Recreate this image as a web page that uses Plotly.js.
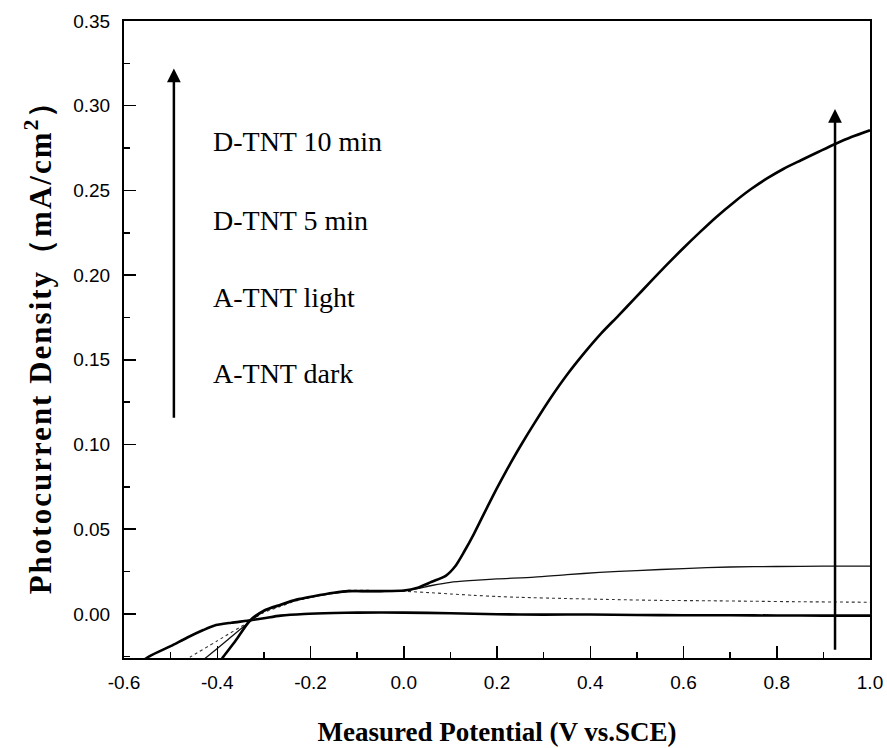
<!DOCTYPE html>
<html>
<head>
<meta charset="utf-8">
<script src="https://cdn.plot.ly/plotly-3.0.1.min.js"></script>
<style>html,body{margin:0;padding:0;background:#fff;}#chart{width:887px;height:748px;} .ytitle{letter-spacing:2px;}</style>
</head>
<body>
<div id="chart"></div>
<script>
// ---- Data ----
const xDark = [-0.57,-0.55,-0.50,-0.464,-0.43,-0.407,-0.37,-0.336,-0.30,-0.264,-0.214,-0.15,-0.10,0.0,0.10,0.20,0.30,0.40,0.50,0.60,0.70,0.80,0.90,1.0];
const yDark = [-0.030,-0.0257,-0.019,-0.0139,-0.0095,-0.0069,-0.0052,-0.004,-0.0025,-0.001,0.0,0.0006,0.0008,0.0008,0.0004,-0.0002,-0.0004,-0.0003,-0.0006,-0.0008,-0.0008,-0.0009,-0.001,-0.001];

const xLight = [-0.47,-0.457,-0.40,-0.33,-0.30,-0.264,-0.23,-0.193,-0.15,-0.12,-0.09,-0.05,0.0,0.06,0.10,0.15,0.20,0.25,0.35,0.45,0.55,0.65,0.75,0.85,0.95,1.0];
const yLight = [-0.0275,-0.0253,-0.0159,-0.0043,0.0008,0.0045,0.0078,0.0102,0.0126,0.0139,0.0140,0.0137,0.0134,0.0125,0.0118,0.0110,0.0103,0.0098,0.0091,0.0085,0.0080,0.0078,0.0075,0.0072,0.0070,0.0069];

const x5min = [-0.44,-0.425,-0.38,-0.33,-0.30,-0.264,-0.23,-0.193,-0.15,-0.12,-0.09,-0.05,0.0,0.03,0.06,0.10,0.15,0.20,0.28,0.35,0.42,0.50,0.60,0.70,0.80,0.90,1.0];
const y5min = [-0.0294,-0.026,-0.0158,-0.0045,0.0015,0.0050,0.0080,0.0103,0.0122,0.0132,0.0132,0.0132,0.0136,0.0150,0.0168,0.0187,0.0198,0.0207,0.0217,0.0232,0.0245,0.0256,0.0268,0.0277,0.0280,0.0282,0.0282];

const x10min = [-0.40,-0.389,-0.36,-0.33,-0.30,-0.264,-0.23,-0.193,-0.15,-0.12,-0.09,-0.05,0.0,0.03,0.06,0.09,0.11,0.13,0.15,0.17,0.19,0.21,0.23,0.25,0.28,0.315,0.351,0.39,0.423,0.46,0.494,0.53,0.566,0.60,0.637,0.67,0.709,0.745,0.78,0.815,0.852,0.89,0.923,0.96,1.0];
const y10min = [-0.030,-0.026,-0.0155,-0.004,0.002,0.0055,0.0085,0.0105,0.0125,0.0135,0.0135,0.0135,0.0138,0.0155,0.019,0.0225,0.028,0.037,0.047,0.058,0.069,0.0795,0.0895,0.099,0.1125,0.1275,0.1415,0.155,0.1655,0.176,0.1858,0.1963,0.2066,0.216,0.2258,0.2342,0.2432,0.2508,0.2572,0.2628,0.2678,0.2728,0.2771,0.2815,0.2855];

const seriesNames = ['A-TNT dark','A-TNT light','D-TNT 5 min','D-TNT 10 min'];
const xTickVals = [-0.6,-0.4,-0.2,0.0,0.2,0.4,0.6,0.8,1.0];
const xTickText = ['-0.6','-0.4','-0.2','0.0','0.2','0.4','0.6','0.8','1.0'];
const yTickVals = [0.00,0.05,0.10,0.15,0.20,0.25,0.30,0.35];
const yTickText = ['0.00','0.05','0.10','0.15','0.20','0.25','0.30','0.35'];
const labelYs = [0.142, 0.187, 0.232, 0.279]; // dark, light, 5 min, 10 min label positions
const labelX = -0.414;

const serif = 'Liberation Serif, Times New Roman, serif';
const sans = 'Liberation Sans, Arial, sans-serif';

const traces = [
  {x: xDark, y: yDark, name: seriesNames[0], mode: 'lines', line: {color: '#000', width: 2.6, shape: 'spline', smoothing: 0.7}},
  {x: xLight, y: yLight, name: seriesNames[1], mode: 'lines', line: {color: '#333', width: 1.1, dash: 'dot', shape: 'spline', smoothing: 0.7}},
  {x: x5min, y: y5min, name: seriesNames[2], mode: 'lines', line: {color: '#111', width: 1.3, shape: 'spline', smoothing: 0.7}},
  {x: x10min, y: y10min, name: seriesNames[3], mode: 'lines', line: {color: '#000', width: 2.6, shape: 'spline', smoothing: 0.7}}
];

const annotations = seriesNames.map((n, i) => ({
  x: labelX, y: labelYs[i], xref: 'x', yref: 'y', text: n, showarrow: false,
  xanchor: 'left', yanchor: 'middle', font: {family: serif, size: 28, color: '#000'}
}));
annotations.push({
  x: -0.493, y: 0.322, ax: -0.493, ay: 0.115, xref: 'x', yref: 'y', axref: 'x', ayref: 'y',
  showarrow: true, arrowhead: 2, arrowsize: 1.1, arrowwidth: 2.5, arrowcolor: '#000', text: ''
});
annotations.push({
  x: 0.925, y: 0.298, ax: 0.925, ay: -0.022, xref: 'x', yref: 'y', axref: 'x', ayref: 'y',
  showarrow: true, arrowhead: 2, arrowsize: 1.1, arrowwidth: 2.5, arrowcolor: '#000', text: ''
});

const layout = {
  width: 887, height: 748,
  margin: {l: 123.5, r: 17, t: 21, b: 90},
  paper_bgcolor: '#fff', plot_bgcolor: '#fff',
  showlegend: false,
  xaxis: {
    range: [-0.6, 1.0], tickmode: 'array', tickvals: xTickVals, ticktext: xTickText,
    ticks: 'inside', ticklen: 12, tickwidth: 1.5, tickcolor: '#000',
    minor: {dtick: 0.1, ticks: 'inside', ticklen: 6, tickwidth: 1.5, tickcolor: '#000'},
    showline: true, linecolor: '#000', linewidth: 2, mirror: true,
    showgrid: false, zeroline: false,
    tickfont: {family: sans, size: 19, color: '#000'},
    ticklabelstandoff: 6,
    title: {text: '<b>Measured Potential (V vs.SCE)</b>', font: {family: serif, size: 27, color: '#000'}, standoff: 30}
  },
  yaxis: {
    range: [-0.026, 0.35], tickmode: 'array', tickvals: yTickVals, ticktext: yTickText,
    ticks: 'inside', ticklen: 12, tickwidth: 1.5, tickcolor: '#000',
    minor: {dtick: 0.025, tick0: 0, ticks: 'inside', ticklen: 6, tickwidth: 1.5, tickcolor: '#000'},
    showline: true, linecolor: '#000', linewidth: 2, mirror: true,
    showgrid: false, zeroline: false,
    tickfont: {family: sans, size: 19, color: '#000'},
    ticklabelstandoff: 8,
    title: {text: '<b>Photocurrent Density（mA/cm<sup>2</sup>）</b>', font: {family: serif, size: 31, color: '#000'}, standoff: 12}
  },
  annotations: annotations
};

Plotly.newPlot('chart', traces, layout, {displayModeBar: false, staticPlot: true});
</script>
</body>
</html>
